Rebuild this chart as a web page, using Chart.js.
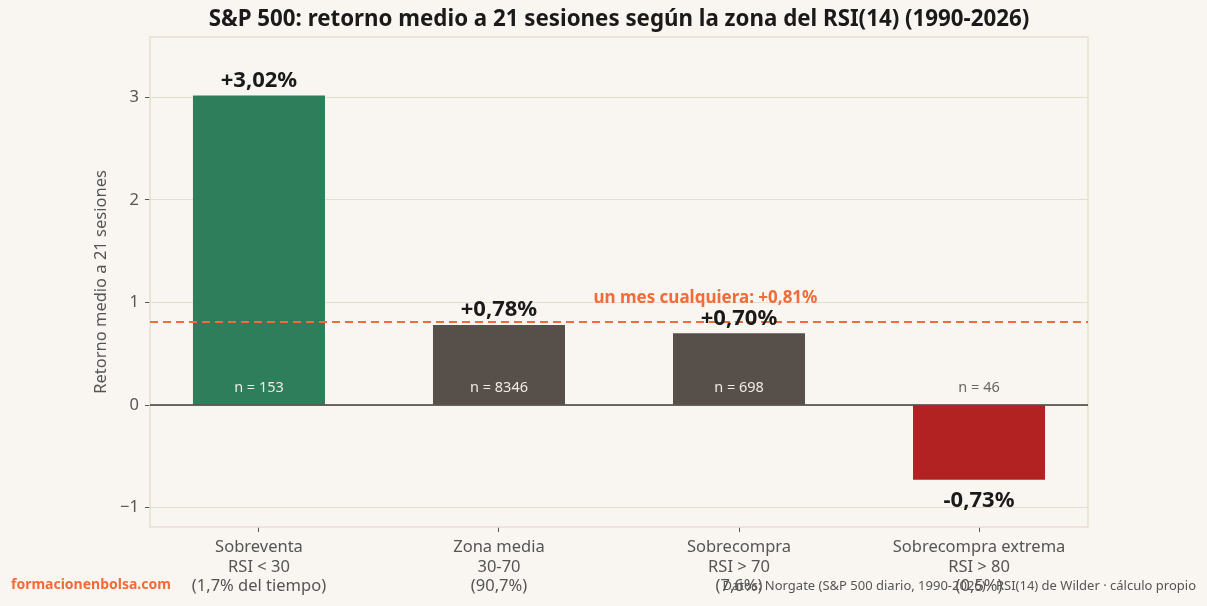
<!DOCTYPE html>
<html><head><meta charset="utf-8">
<script src="https://cdn.jsdelivr.net/npm/chart.js@4.4.1/dist/chart.umd.min.js"></script>
<style>html,body{margin:0;padding:0;background:#f9f6f1;overflow:hidden;}#wrap{width:1207px;height:606px;position:relative;}</style>
</head><body><div id="wrap"><canvas id="c" width="1207" height="606"></canvas></div>
<script>
const zoneNames = ["Sobreventa", "Zona media", "Sobrecompra", "Sobrecompra extrema"];
const rsiRanges = ["RSI < 30", "30-70", "RSI > 70", "RSI > 80"];
const timeShares = ["(1,7% del tiempo)", "(90,7%)", "(7,6%)", "(0,5%)"];
const meanReturns = [3.02, 0.78, 0.70, -0.73];
const sampleCounts = [153, 8346, 698, 46];
const barColors = ["#2e7d5b", "#574f4a", "#574f4a", "#b22222"];
const yTicks = [-1, 0, 1, 2, 3];
const baselineReturn = 0.81;
const titleText = "S&P 500: retorno medio a 21 sesiones según la zona del RSI(14) (1990-2026)";
const yTitle = "Retorno medio a 21 sesiones";
const baselineLabel = "un mes cualquiera: +0,81%";
const brandText = "formacionenbolsa.com";
const sourceText = "Datos: Norgate (S&P 500 diario, 1990-2026) · RSI(14) de Wilder · cálculo propio";

const FONT = "'Noto Sans', 'Open Sans', sans-serif";
const fmt = v => (v >= 0 ? "+" : "-") + Math.abs(v).toFixed(2).replace(".", ",") + "%";

const overlay = {
  id: "overlay",
  beforeDraw(chart) {
    const ctx = chart.ctx;
    ctx.save();
    ctx.fillStyle = "#f9f6f1";
    ctx.fillRect(0, 0, chart.width, chart.height);
    ctx.restore();
  },
  afterDraw(chart) {
    const ctx = chart.ctx, a = chart.chartArea;
    const ys = chart.scales.y, xs = chart.scales.x;
    ctx.save();
    ctx.strokeStyle = "#e6dfd1";
    ctx.lineWidth = 1.5;
    ctx.strokeRect(a.left, a.top, a.right - a.left, a.bottom - a.top);
    const y0 = ys.getPixelForValue(0);
    ctx.strokeStyle = "#3f3a36";
    ctx.lineWidth = 1.6;
    ctx.beginPath(); ctx.moveTo(a.left, y0); ctx.lineTo(a.right, y0); ctx.stroke();
    const yb = ys.getPixelForValue(baselineReturn);
    ctx.strokeStyle = "#f26b38";
    ctx.lineWidth = 2;
    ctx.setLineDash([8, 5]);
    ctx.beginPath(); ctx.moveTo(a.left, yb); ctx.lineTo(a.right, yb); ctx.stroke();
    ctx.setLineDash([]);
    ctx.fillStyle = "#f26b38";
    ctx.font = "bold 17px " + FONT;
    ctx.textAlign = "center"; ctx.textBaseline = "middle";
    ctx.fillText(baselineLabel, xs.getPixelForValue(1.86), yb - 24);
    const meta = chart.getDatasetMeta(0);
    meta.data.forEach((bar, i) => {
      const v = meanReturns[i];
      ctx.fillStyle = "#1a1a1a";
      ctx.font = "bold 22px " + FONT;
      ctx.fillText(fmt(v), bar.x, v >= 0 ? bar.y - 15 : bar.y + 21);
      ctx.font = "14.5px " + FONT;
      ctx.fillStyle = v >= 0 ? "#f0ebe3" : "#666";
      ctx.fillText("n = " + sampleCounts[i], bar.x, y0 - 17);
    });
    ctx.fillStyle = "#1a1a1a";
    ctx.font = "bold 22.3px " + FONT;
    ctx.fillText(titleText, (a.left + a.right) / 2, 20);
    ctx.textAlign = "left";
    ctx.fillStyle = "#f26b38";
    ctx.font = "bold 14px " + FONT;
    ctx.fillText(brandText, 11, 585);
    ctx.textAlign = "right";
    ctx.fillStyle = "#555";
    ctx.font = "13px " + FONT;
    ctx.fillText(sourceText, 1196, 586);
    ctx.restore();
  }
};

new Chart(document.getElementById("c"), {
  type: "bar",
  data: {
    datasets: [{
      data: meanReturns.map((v, i) => ({ x: i, y: v })),
      backgroundColor: barColors,
      borderWidth: 0,
      barPercentage: 0.55,
      categoryPercentage: 1.0
    }]
  },
  options: {
    responsive: false,
    animation: false,
    devicePixelRatio: 1,
    layout: { padding: { left: 86, right: 119, top: 37, bottom: 0 } },
    plugins: { legend: { display: false }, tooltip: { enabled: false }, title: { display: false } },
    scales: {
      x: {
        type: "linear",
        offset: false,
        min: -0.454, max: 3.454,
        afterBuildTicks: s => { s.ticks = zoneNames.map((_, i) => ({ value: i })); },
        afterFit: s => { s.height = 79; },
        grid: { offset: false, drawOnChartArea: false, drawTicks: true, tickLength: 5, tickColor: "#555" },
        border: { display: false },
        ticks: {
          autoSkip: false, maxRotation: 0, padding: 6,
          color: "#555", font: { family: FONT, size: 16.5, lineHeight: "19.5px" },
          callback: v => [zoneNames[v], rsiRanges[v], timeShares[v]]
        }
      },
      y: {
        min: -1.19, max: 3.59,
        z: 1,
        afterBuildTicks: s => { s.ticks = yTicks.map(v => ({ value: v })); },
        afterFit: s => { s.width = 64; },
        grid: { color: "#e6dfd1", lineWidth: 1, tickLength: 5, tickColor: "#555" },
        border: { display: false },
        ticks: {
          padding: 6, color: "#555", font: { family: FONT, size: 16.5 },
          callback: v => (v < 0 ? "\u2212" + Math.abs(v) : String(v))
        },
        title: { display: true, text: yTitle, color: "#555", font: { family: FONT, size: 16.5 }, padding: { top: 5, bottom: 0 } }
      }
    }
  },
  plugins: [overlay]
});
</script></body></html>
